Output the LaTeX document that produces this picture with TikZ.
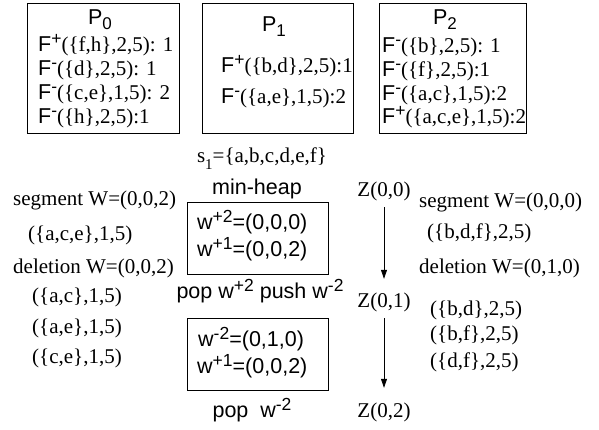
\documentclass[tikz,border=0pt]{standalone}
\usepackage{fontspec}
\setmainfont{Liberation Serif}
\newfontfamily\arfam{Liberation Sans}
\newcommand\ar{\arfam\fontsize{21.5}{25}\selectfont}
\usetikzlibrary{arrows.meta}
\newcommand\sps[1]{\raisebox{7pt}{\fontsize{17.5}{17.5}\selectfont #1}}
\newcommand\sbs[1]{\raisebox{-5pt}{\fontsize{17}{17}\selectfont #1}}
\newcommand\Fp{{\ar F\sps{+}}}
\newcommand\Fm{{\ar F\sps{-}}}
\begin{document}
\begin{tikzpicture}[x=1pt,y=-1pt,
  txt/.style={font=\fontsize{21}{25}\selectfont, inner sep=0pt, text height=15pt, text depth=5pt},
  lbl/.style={txt, anchor=west},
  ctr/.style={txt, anchor=center},
  boxn/.style={draw, line width=0.8pt, inner sep=0pt},
  arr/.style={-{Triangle[length=9pt,width=6pt]}, line width=0.8pt}]
\useasboundingbox (0,0) rectangle (599,429);
% top boxes
\node[boxn, minimum width=152pt, minimum height=130pt] (bp0) at (103,68) {};
\node[boxn, minimum width=151pt, minimum height=130pt] (bp1) at (277.5,68) {};
\node[boxn, minimum width=147pt, minimum height=130pt] (bp2) at (452.5,68) {};
\node[txt, anchor=base] (p0) at (100,24) {\ar P\sbs{0}};
\node[txt, anchor=base] (p1) at (274,31) {\ar P\sbs{1}};
\node[txt, anchor=base] (p2) at (445,24) {\ar P\sbs{2}};
\node[lbl] (a1) at (38,46) {\Fp(\{f,h\},2,5): 1};
\node[lbl] (a2) at (38,70) {\Fm(\{d\},2,5): 1};
\node[lbl] (a3) at (38,94) {\Fm(\{c,e\},1,5): 2};
\node[lbl] (a4) at (38,118) {\Fm(\{h\},2,5):1};
\node[lbl] (b1) at (221,67) {\Fp(\{b,d\},2,5):1};
\node[lbl] (b2) at (221,98) {\Fm(\{a,e\},1,5):2};
\node[lbl] (c1) at (382,47) {\Fm(\{b\},2,5): 1};
\node[lbl] (c2) at (382,71) {\Fm(\{f\},2,5):1};
\node[lbl] (c3) at (382,95) {\Fm(\{a,c\},1,5):2};
\node[lbl] (c4) at (382,118) {\Fp(\{a,c,e\},1,5):2};
% middle
\node[ctr] (s1) at (262,157) {s\raisebox{-7pt}{\fontsize{15}{15}\selectfont 1}=\{a,b,c,d,e,f\}};
\node[ctr] (mh) at (257,189) {\ar min-heap};
\node[boxn, minimum width=141pt, minimum height=72pt] (h1) at (257.5,238) {};
\node[lbl] (h1a) at (197,224) {\ar w\sps{+2}=(0,0,0)};
\node[lbl] (h1b) at (197,251) {\ar w\sps{+1}=(0,0,2)};
\node[ctr] (op1) at (260,293) {\ar pop w\sps{+2} push w\sps{-2}};
\node[boxn, minimum width=141pt, minimum height=72pt] (h2) at (257.5,354) {};
\node[lbl] (h2a) at (198,341) {\ar w\sps{-2}=(0,1,0)};
\node[lbl] (h2b) at (197,368) {\ar w\sps{+1}=(0,0,2)};
\node[ctr] (op2) at (252,412) {\ar pop\ \ w\sps{-2}};
% Z column
\node[ctr] (z0) at (384,191) {Z(0,0)};
\node[ctr] (z1) at (384,302) {Z(0,1)};
\node[ctr] (z2) at (384,412) {Z(0,2)};
\draw[arr, shorten <=6pt, shorten >=13pt] (z0) -- (z1);
\draw[arr, shorten <=6pt, shorten >=14pt] (z1) -- (z2);
% left column
\node[lbl] (l1) at (13,200) {segment W=(0,0,2)};
\node[lbl] (l2) at (28,235) {(\{a,c,e\},1,5)};
\node[lbl] (l3) at (13,268) {deletion W=(0,0,2)};
\node[lbl] (l4) at (32,297) {(\{a,c\},1,5)};
\node[lbl] (l5) at (32,328) {(\{a,e\},1,5)};
\node[lbl] (l6) at (32,358) {(\{c,e\},1,5)};
% right column
\node[lbl] (r1) at (419,202) {segment W=(0,0,0)};
\node[lbl] (r2) at (427,233) {(\{b,d,f\},2,5)};
\node[lbl] (r3) at (419,268) {deletion W=(0,1,0)};
\node[lbl] (r4) at (430,310) {(\{b,d\},2,5)};
\node[lbl] (r5) at (430,335) {(\{b,f\},2,5)};
\node[lbl] (r6) at (430,362) {(\{d,f\},2,5)};
\end{tikzpicture}
\end{document}
